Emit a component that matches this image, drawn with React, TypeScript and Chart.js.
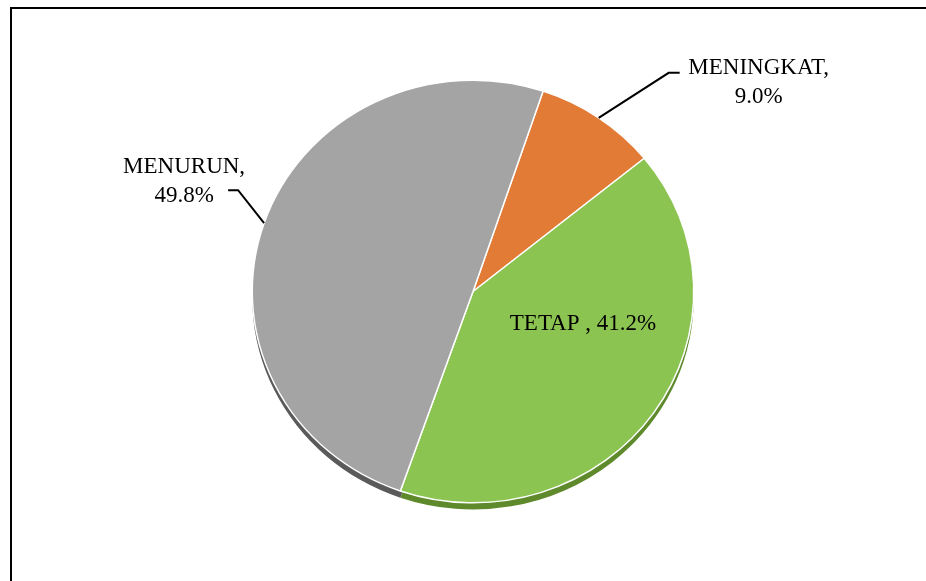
import React, { useEffect, useRef } from "react";
import { Chart, registerables } from "chart.js";

Chart.register(...registerables);

const categories = ["MENINGKAT", "TETAP ", "MENURUN"];
const values = [9.0, 41.2, 49.8];
const sliceColors = ["#e27b35", "#8cc452", "#a4a4a4"];
const rimColors = ["#9a4e1c", "#5e8a2c", "#5a5a5a"];

const SY = 0.957; // slight vertical squash (tilted pie)
const FONT = "23px 'Liberation Serif', 'Times New Roman', serif";

export default function App() {
  const ref = useRef<HTMLCanvasElement | null>(null);

  useEffect(() => {
    if (!ref.current) return;

    const framePlugin = {
      id: "frame",
      beforeDraw(chart: any) {
        const ctx = chart.ctx;
        ctx.save();
        ctx.fillStyle = "#ffffff";
        ctx.fillRect(0, 0, chart.width, chart.height);
        ctx.fillStyle = "#000000";
        ctx.fillRect(10, 7, 2, chart.height);
        ctx.fillRect(10, 7, chart.width, 2);
        ctx.restore();
      },
    };

    const pieStyle = {
      id: "pieStyle",
      beforeDatasetsDraw(chart: any) {
        const ctx = chart.ctx;
        const meta = chart.getDatasetMeta(0);
        const a0 = meta.data[0];
        const cx = a0.x;
        const cy = a0.y;
        ctx.save();
        ctx.translate(cx, cy);
        ctx.scale(1, SY);
        ctx.translate(-cx, -cy);
        // rim / shadow
        meta.data.forEach((arc: any, i: number) => {
          const p = arc.getProps(["x", "y", "startAngle", "endAngle", "outerRadius"], true);
          ctx.beginPath();
          ctx.moveTo(p.x, p.y + 7);
          ctx.arc(p.x, p.y + 7, p.outerRadius, p.startAngle, p.endAngle);
          ctx.closePath();
          ctx.fillStyle = rimColors[i];
          ctx.fill();
        });
      },
      afterDatasetsDraw(chart: any) {
        const ctx = chart.ctx;
        ctx.restore();
        const meta = chart.getDatasetMeta(0);
        ctx.save();
        ctx.font = FONT;
        ctx.fillStyle = "#000000";
        ctx.strokeStyle = "#000000";
        ctx.lineWidth = 2;
        ctx.textAlign = "center";
        ctx.textBaseline = "alphabetic";
        meta.data.forEach((arc: any, i: number) => {
          const p = arc.getProps(["x", "y", "startAngle", "endAngle", "outerRadius"], true);
          const mid = (p.startAngle + p.endAngle) / 2;
          const ax = p.x + Math.cos(mid) * p.outerRadius;
          const ay = p.y + Math.sin(mid) * p.outerRadius * SY;
          const cat = categories[i];
          const val = values[i].toFixed(1) + "%";
          if (i === 0) {
            const ex = ax + 70;
            const ey = ay - 45;
            ctx.beginPath();
            ctx.moveTo(ax, ay);
            ctx.lineTo(ex, ey);
            ctx.lineTo(ex + 11, ey);
            ctx.stroke();
            const tx = ex + 11 + 79;
            ctx.fillText(cat + ",", tx, ey + 1);
            ctx.fillText(val, tx, ey + 30);
          } else if (i === 2) {
            const ex = ax - 26;
            const ey = ay - 33;
            ctx.beginPath();
            ctx.moveTo(ax, ay);
            ctx.lineTo(ex, ey);
            ctx.lineTo(ex - 10, ey);
            ctx.stroke();
            const tx = ex - 10 - 44;
            ctx.fillText(cat + ",", tx, ey - 17);
            ctx.fillText(val, tx, ey + 12);
          } else {
            ctx.fillText(cat + ", " + val, p.x + 110, p.y + 38);
          }
        });
        ctx.restore();
      },
    };

    const chart = new Chart(ref.current, {
      type: "pie",
      data: {
        labels: categories,
        datasets: [
          {
            data: values,
            backgroundColor: sliceColors,
            borderColor: "#ffffff",
            borderWidth: 1.5,
          },
        ],
      },
      options: {
        responsive: false,
        maintainAspectRatio: false,
        animation: false,
        rotation: 18.5,
        layout: { padding: { left: 251, right: 231, top: 70, bottom: 68 } },
        plugins: {
          legend: { display: false },
          tooltip: { enabled: false },
        },
      },
      plugins: [framePlugin, pieStyle],
    });
    return () => chart.destroy();
  }, []);

  return (
    <canvas
      ref={ref}
      width={926}
      height={581}
      style={{ position: "fixed", left: 0, top: 0, width: 926, height: 581 }}
    />
  );
}
